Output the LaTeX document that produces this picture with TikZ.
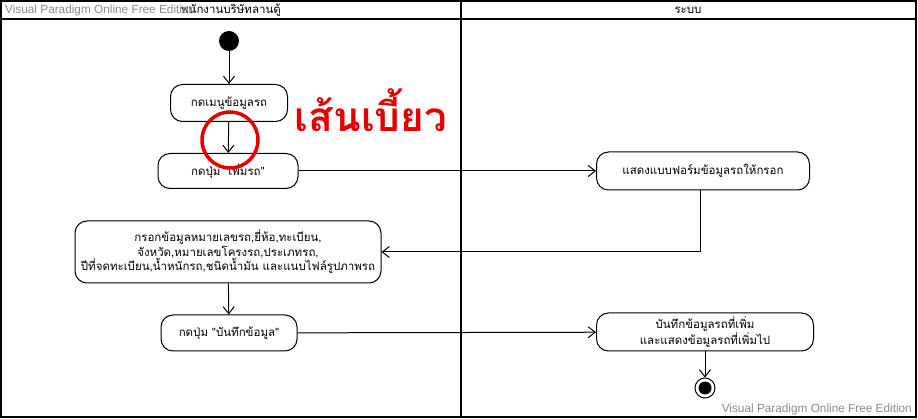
\documentclass[tikz,border=0pt]{standalone}
\usepackage{fontspec}
\setmainfont{Liberation Sans}
\newfontfamily\thaifont[Script=Thai]{Loma}
\usetikzlibrary{arrows.meta, calc}
\tikzset{>={Straight Barb[length=7pt, width=11pt]}, font=\thaifont\fontsize{11.5}{13}\selectfont}
\tikzset{act/.style={shape=rectangle, draw, rounded corners=12pt, line width=1pt,
    align=center, inner sep=2pt}}
\tikzset{flow/.style={->, line width=1pt}}
\tikzset{lane/.style={draw, line width=1.8pt}}
\tikzset{wmark/.style={font=\fontsize{11.8}{13}\selectfont, text=black!45, inner sep=0pt}}

\begin{document}
\begin{tikzpicture}[x=1pt, y=-1pt]
      \useasboundingbox[fill=white] (0,0) rectangle (918,419);
      % swimlanes
      \path[lane] (1,1) rectangle (916,417);
      \path[lane] (1,19) -- (916,19);
      \path[lane] (461,1) -- (461,417);
      \node (lane1) at (231,10) {พนักงานบริษัทลานตู้};
      \node (lane2) at (688,10) {ระบบ};
      \node[wmark, anchor=west] (wm1) at (5,10) {Visual Paradigm Online Free Edition};
      \node[wmark, anchor=east] (wm2) at (912,409) {Visual Paradigm Online Free Edition};
      % actions
      \node[circle, fill=black, minimum size=20pt, inner sep=0pt] (init) at (229,41) {};
      \node[act, minimum width=117pt, minimum height=37pt] (menu) at (229,103) {กดเมนูข้อมูลรถ};
      \node[act, minimum width=140pt, minimum height=35pt] (addcar) at (228,171) {กดปุ่ม "เพิ่มรถ"};
      \node[act, minimum width=213pt, minimum height=38pt] (showform) at (703,171) {แสดงแบบฟอร์มข้อมูลรถให้กรอก};
      \node[act, minimum width=306pt, minimum height=62pt] (fillform) at (228,252)
      {กรอกข้อมูลหมายเลขรถ,ยี่ห้อ,ทะเบียน,\\จังหวัด,หมายเลขโครงรถ,ประเภทรถ,\\ปีที่จดทะเบียน,น้ำหนักรถ,ชนิดน้ำมัน และแนบไฟล์รูปภาพรถ};
      \node[act, minimum width=136pt, minimum height=36pt] (savebtn) at (229,333) {กดปุ่ม "บันทึกข้อมูล"};
      \node[act, minimum width=217pt, minimum height=38pt] (savedata) at (705,332)
      {บันทึกข้อมูลรถที่เพิ่ม\\และแสดงข้อมูลรถที่เพิ่มไป};
      \node[circle, draw, line width=1pt, minimum size=20pt, inner sep=0pt] (final) at (705,388) {};
      \fill (final.center) circle (6.5pt);
      % flows
      \draw[flow] (init) -- (menu);
      \draw[flow] (menu) -- (addcar);
      \draw[flow] (addcar) -- (showform);
      \draw[flow] ($(showform.south)+(-3,0)$) |- (fillform.east);
      \draw[flow] (fillform) -- (savebtn);
      \draw[flow] (savebtn) -- (savedata);
      \draw[flow] (savedata) -- (final);
      % note
      \node[circle, draw=red!90!black, line width=3.5pt, minimum size=56pt] (mark) at (230,140) {};
      \node[text=red!90!black, font=\thaifont\bfseries\fontsize{40.5}{44}\selectfont] (note) at (371,110) {เส้นเบี้ยว};
\end{tikzpicture}
\end{document}
